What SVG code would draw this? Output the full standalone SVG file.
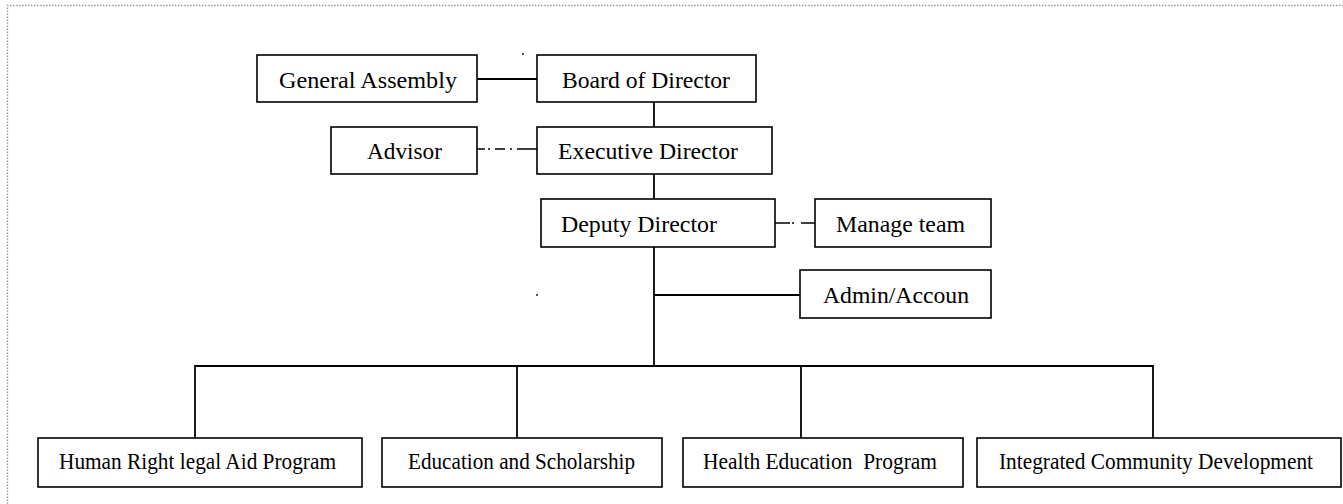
<svg xmlns="http://www.w3.org/2000/svg" width="1343" height="504" viewBox="0 0 1343 504">
  <style>
    .box { fill: #ffffff; stroke: #000000; stroke-width: 1.6; }
    .lbl { font-family: "Liberation Serif", "Times New Roman", serif; font-size: 23.7px; fill: #000000; }
    .lbs { font-family: "Liberation Serif", "Times New Roman", serif; font-size: 22.5px; fill: #000000; }
    .ln { stroke: #000000; stroke-width: 1.8; fill: none; }
    .dd { stroke: #000000; stroke-width: 1.6; fill: none; }
  </style>
  <rect x="0" y="0" width="1343" height="504" fill="#ffffff"/>
  <path d="M7.5,504 V5.5 H1343" fill="none" stroke="#9a9a9a" stroke-width="1.4" stroke-dasharray="1.5 1.5"/>

  <g id="connectors">
    <line class="ln" x1="477" y1="79" x2="537" y2="79"/>
    <line class="ln" x1="654" y1="102" x2="654" y2="127"/>
    <line class="ln" x1="654" y1="174" x2="654" y2="199"/>
    <path class="dd" d="M477,149 H485 M488,149 H490 M495,149 H505 M510,149 H512 M517,149 H537"/>
    <path class="dd" d="M771,223 H790 M792,223 H794 M801,223 H815"/>
    <line class="ln" x1="654" y1="247" x2="654" y2="366"/>
    <line class="ln" x1="654" y1="295" x2="800" y2="295"/>
    <line class="ln" x1="194.1" y1="366" x2="1153.9" y2="366"/>
    <line class="ln" x1="195" y1="366" x2="195" y2="438"/>
    <line class="ln" x1="517" y1="366" x2="517" y2="438"/>
    <line class="ln" x1="801" y1="366" x2="801" y2="438"/>
    <line class="ln" x1="1153" y1="366" x2="1153" y2="438"/>
    <circle cx="523" cy="54" r="0.9" fill="#000"/>
    <circle cx="537" cy="295" r="0.9" fill="#000"/>
  </g>

  <g id="general-assembly">
    <rect class="box" x="257" y="55" width="220" height="47"/>
    <text class="lbl" x="279" y="88" textLength="178" lengthAdjust="spacingAndGlyphs">General Assembly</text>
  </g>
  <g id="board-of-director">
    <rect class="box" x="537" y="55" width="219" height="47"/>
    <text class="lbl" x="562" y="88" textLength="168" lengthAdjust="spacingAndGlyphs">Board of Director</text>
  </g>
  <g id="advisor">
    <rect class="box" x="331" y="127" width="146" height="47"/>
    <text class="lbl" x="367" y="159" textLength="75" lengthAdjust="spacingAndGlyphs">Advisor</text>
  </g>
  <g id="executive-director">
    <rect class="box" x="537" y="127" width="235" height="47"/>
    <text class="lbl" x="558" y="159" textLength="180" lengthAdjust="spacingAndGlyphs">Executive Director</text>
  </g>
  <g id="deputy-director">
    <rect class="box" x="541" y="199" width="234" height="48"/>
    <text class="lbl" x="561" y="232" textLength="156" lengthAdjust="spacingAndGlyphs">Deputy Director</text>
  </g>
  <g id="manage-team">
    <rect class="box" x="815" y="199" width="176" height="48"/>
    <text class="lbl" x="836" y="232" textLength="129" lengthAdjust="spacingAndGlyphs">Manage team</text>
  </g>
  <g id="admin-accoun">
    <rect class="box" x="800" y="270" width="191" height="48"/>
    <text class="lbl" x="823" y="303" textLength="146" lengthAdjust="spacingAndGlyphs">Admin/Accoun</text>
  </g>
  <g id="human-right">
    <rect class="box" x="38" y="438" width="324" height="49"/>
    <text class="lbs" x="59" y="469" textLength="277" lengthAdjust="spacingAndGlyphs">Human Right legal Aid Program</text>
  </g>
  <g id="education-scholarship">
    <rect class="box" x="382" y="438" width="280" height="49"/>
    <text class="lbs" x="408" y="469" textLength="227" lengthAdjust="spacingAndGlyphs">Education and Scholarship</text>
  </g>
  <g id="health-education">
    <rect class="box" x="683" y="438" width="280" height="49"/>
    <text class="lbs" x="703" y="469" textLength="234" lengthAdjust="spacingAndGlyphs" xml:space="preserve">Health Education  Program</text>
  </g>
  <g id="integrated-community">
    <rect class="box" x="977" y="438" width="364" height="49"/>
    <text class="lbs" x="999" y="469" textLength="314" lengthAdjust="spacingAndGlyphs">Integrated Community Development</text>
  </g>
</svg>
